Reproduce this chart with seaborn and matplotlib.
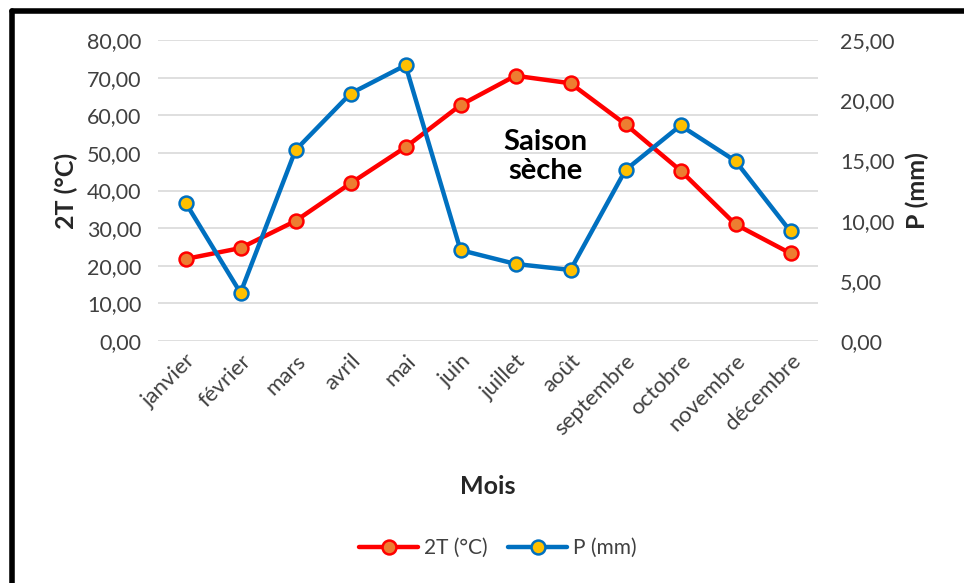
import numpy as np
import pandas as pd
import matplotlib.pyplot as plt
import seaborn as sns
from matplotlib.lines import Line2D
from matplotlib.ticker import FuncFormatter

# === Données ===
mois = ["janvier", "février", "mars", "avril", "mai", "juin", "juillet",
        "août", "septembre", "octobre", "novembre", "décembre"]
temp_2t = [21.8, 24.7, 31.9, 41.9, 51.5, 62.7, 70.5, 68.5, 57.6, 45.3, 31.0, 23.3]
precip = [11.5, 4.0, 15.85, 20.55, 22.9, 7.55, 6.4, 5.9, 14.2, 17.9, 14.95, 9.1]

df = pd.DataFrame({"pos": np.arange(len(mois)), "mois": mois,
                   "T2": temp_2t, "P": precip})

sns.set_theme(style="white")
plt.rcParams["font.family"] = ["Lato", "DejaVu Sans"]

fig = plt.figure(figsize=(9.64, 5.83), dpi=100)
ax = fig.add_axes([158 / 964, 1 - 341 / 583, 660 / 964, 301 / 583])
ax2 = ax.twinx()

ROUGE, ORANGE = "#FF0000", "#ED7D31"
BLEU, JAUNE = "#0070C0", "#FFC000"

sns.lineplot(data=df, x="pos", y="T2", ax=ax, color=ROUGE, linewidth=3.2,
             marker="o", markersize=10, markerfacecolor=ORANGE,
             markeredgecolor=ROUGE, markeredgewidth=1.8, zorder=3)
sns.lineplot(data=df, x="pos", y="P", ax=ax2, color=BLEU, linewidth=3.2,
             marker="o", markersize=10, markerfacecolor=JAUNE,
             markeredgecolor=BLEU, markeredgewidth=1.8, zorder=3)

fmt = FuncFormatter(lambda v, p: f"{v:.2f}".replace(".", ","))

ax.set_xlim(-0.5, len(mois) - 0.5)
ax.set_ylim(0, 80)
ax.set_yticks(np.arange(0, 81, 10))
ax.yaxis.set_major_formatter(fmt)
ax2.set_ylim(0, 25)
ax2.set_yticks(np.arange(0, 26, 5))
ax2.yaxis.set_major_formatter(fmt)

ax.grid(axis="y", color="#D9D9D9", linewidth=1.2)
ax.set_axisbelow(True)
for a in (ax, ax2):
    for s in a.spines.values():
        s.set_visible(False)
    a.tick_params(length=0, labelsize=15.5, colors="#404040")

ax.set_xticks(df["pos"])
ax.set_xticklabels(mois, rotation=45, ha="right", rotation_mode="anchor",
                   fontsize=16, color="#404040")
ax.tick_params(axis="x", pad=7)
ax.tick_params(axis="y", pad=12)
ax2.tick_params(axis="y", pad=16)

ax.set_xlabel("Mois", fontsize=18, weight="bold", labelpad=26)
ax.set_ylabel("2T (°C)", fontsize=18, weight="bold", labelpad=6)
ax2.set_ylabel("P (mm)", fontsize=18, weight="bold", labelpad=8)

ax.text(6.55, 49, "Saison\nsèche", ha="center", va="center",
        fontsize=21, weight="bold", color="black", linespacing=1.15)

poignees = [
    Line2D([], [], color=ROUGE, linewidth=3.2, marker="o", markersize=10,
           markerfacecolor=ORANGE, markeredgecolor=ROUGE, markeredgewidth=1.8),
    Line2D([], [], color=BLEU, linewidth=3.2, marker="o", markersize=10,
           markerfacecolor=JAUNE, markeredgecolor=BLEU, markeredgewidth=1.8),
]
fig.legend(poignees, ["2T (°C)", "P (mm)"], loc="center",
           bbox_to_anchor=(498 / 964, 1 - 548 / 583), ncol=2, frameon=False,
           fontsize=15, handlelength=2.8, columnspacing=1.0, handletextpad=0.3,
           labelcolor="#404040")

# cadre noir (haut et gauche)
fig.add_artist(Line2D([12 / 964, 1], [1 - 11 / 583, 1 - 11 / 583],
                      color="black", linewidth=4, transform=fig.transFigure))
fig.add_artist(Line2D([12 / 964, 12 / 964], [0, 1 - 11 / 583],
                      color="black", linewidth=4, transform=fig.transFigure))

fig.savefig("out.png", dpi=100, facecolor="white")
